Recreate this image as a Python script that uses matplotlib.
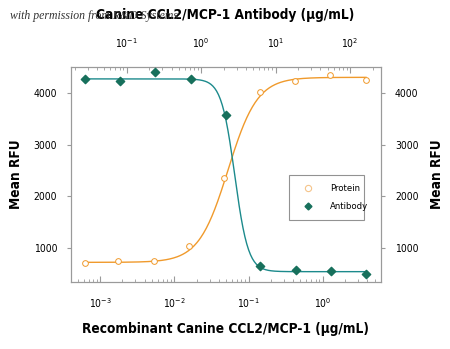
import numpy as np
import matplotlib
matplotlib.use("Agg")
import matplotlib.pyplot as plt
from matplotlib.lines import Line2D

plt.rcParams["font.family"] = ["DejaVu Sans"]
plt.rcParams["font.stretch"] = "condensed"

# Recombinant protein (bottom axis, ug/mL)
protein_conc = [0.00063, 0.00177, 0.00535, 0.0158, 0.0474, 0.1406, 0.426, 1.26, 3.82]
protein_rfu = [715, 750, 740, 1045, 2360, 4025, 4235, 4340, 4250]
# Antibody (top axis, ug/mL)
antibody_conc = [0.0275, 0.0813, 0.240, 0.724, 2.14, 6.24, 18.7, 55.6, 164]
antibody_rfu = [4260, 4230, 4405, 4260, 3565, 650, 580, 560, 485]

# 4PL fit parameters: bottom, top, ec50, hill
protein_fit = (720, 4300, 0.053, 2.2)
antibody_fit = (540, 4270, 2.82, 4.8)

orange = "#F09A2C"
teal = "#1C8A8C"
green = "#17705C"
grey = "#9A9A9A"


def four_pl(x, bottom, top, ec50, hill):
    return bottom + (top - bottom) / (1 + (ec50 / x) ** hill)


fig = plt.figure(figsize=(4.5, 3.49), dpi=100)
ax = fig.add_axes([0.158, 0.192, 0.689, 0.616])
ax_top = ax.twiny()

xs = np.logspace(np.log10(protein_conc[0]), np.log10(protein_conc[-1]), 300)
ax.plot(xs, four_pl(xs, *protein_fit), color=orange, lw=1.0, zorder=2)
ax.scatter(protein_conc, protein_rfu, s=17, facecolors="white", edgecolors=orange,
           linewidths=0.7, zorder=3)

xt = np.logspace(np.log10(antibody_conc[0]), np.log10(antibody_conc[-1]), 300)
ax_top.plot(xt, four_pl(xt, antibody_fit[0], antibody_fit[1], antibody_fit[2], -antibody_fit[3]),
            color=teal, lw=1.0, zorder=2)
ax_top.scatter(antibody_conc, antibody_rfu, s=18, marker="D", color=green, zorder=3)

for a in (ax, ax_top):
    a.set_xscale("log")
    for s in a.spines.values():
        s.set_color(grey)
        s.set_linewidth(0.8)

ax.set_xlim(10 ** -3.39, 10 ** 0.786)
ax_top.set_xlim(10 ** -1.748, 10 ** 2.417)
ax.set_ylim(340, 4500)
ax.set_yticks([1000, 2000, 3000, 4000])

ax.tick_params(axis="x", which="both", direction="in", colors=grey, labelcolor="black",
               labelsize=7.5, pad=10)
ax.tick_params(axis="x", which="major", length=4)
ax.tick_params(axis="x", which="minor", length=2.5)
ax_top.tick_params(axis="x", which="both", direction="in", colors=grey, labelcolor="black",
                   labelsize=7.5, pad=12)
ax_top.tick_params(axis="x", which="major", length=4)
ax_top.tick_params(axis="x", which="minor", length=2.5)
ax.tick_params(axis="y", direction="out", length=3, colors=grey, labelcolor="black",
               labelsize=7.5, right=True, labelright=True, pad=7)

fig.text(0.5, 0.057, "Recombinant Canine CCL2/MCP-1 (\u03bcg/mL)", ha="center", va="center",
         fontsize=9.8, fontweight="bold")
fig.text(0.5, 0.957, "Canine CCL2/MCP-1 Antibody (\u03bcg/mL)", ha="center", va="center",
         fontsize=9.8, fontweight="bold")
fig.text(0.036, 0.5, "Mean RFU", rotation=90, ha="center", va="center",
         fontsize=9.8, fontweight="bold")
fig.text(0.972, 0.5, "Mean RFU", rotation=90, ha="center", va="center",
         fontsize=9.8, fontweight="bold")
fig.text(0.022, 0.953, "with permission from R&D Systems", ha="left", va="center",
         fontsize=8.5, style="italic", family=["Liberation Serif", "DejaVu Serif"],
         stretch="normal", color="#333333", zorder=10)

handles = [
    Line2D([], [], ls="none", marker="o", ms=4.5, mfc="white", mec="#F5C48A", mew=0.8),
    Line2D([], [], ls="none", marker="D", ms=3.5, color=green),
]
leg = ax_top.legend(handles, ["Protein", "Antibody"], loc="lower left",
                    bbox_to_anchor=(0.687, 0.265, 0.274, 0.205), mode="expand",
                    fontsize=6.8, frameon=True, fancybox=False, borderpad=1.0,
                    labelspacing=0.9, handletextpad=1.4)
leg.get_frame().set_edgecolor("#777777")
leg.get_frame().set_linewidth(0.8)

fig.savefig("out.png", dpi=100)
